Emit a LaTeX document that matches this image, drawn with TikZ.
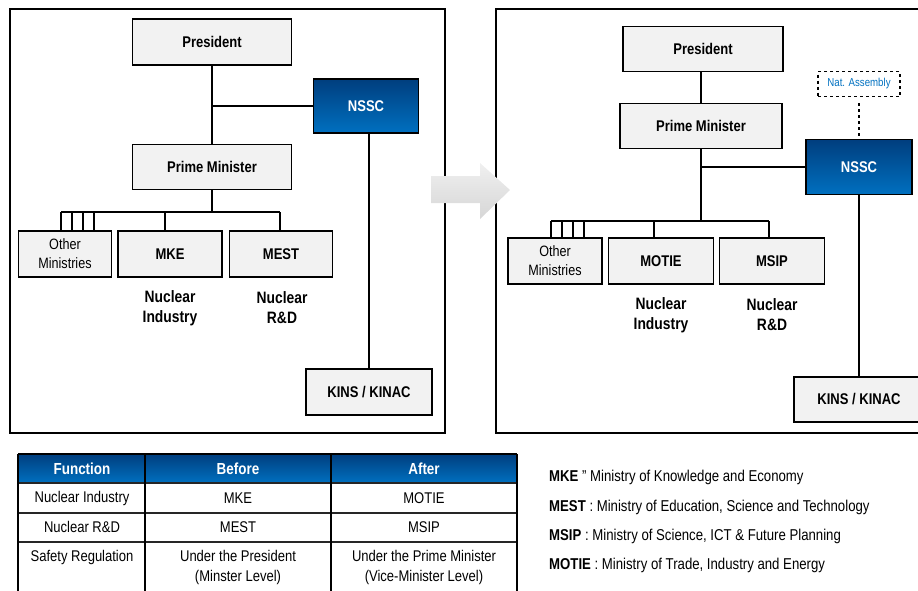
\documentclass[tikz,border=0pt]{standalone}
\usepackage{fontspec}
\setmainfont{Liberation Sans}[FakeStretch=0.84]
\usetikzlibrary{positioning}
\definecolor{boxgray}{RGB}{242,242,242}
\definecolor{navydark}{RGB}{0,62,126}
\definecolor{navylight}{RGB}{0,112,192}
\definecolor{natblue}{RGB}{0,112,192}

\begin{document}
\begin{tikzpicture}[x=1pt, y=-1pt, font=\fontsize{15}{17}\selectfont,
  orgbox/.style={draw, line width=1.3pt, fill=boxgray, inner sep=0pt, minimum height=46pt, font=\fontsize{15.5}{17}\selectfont\bfseries},
  nsscbox/.style={draw, line width=1.3pt, top color=navydark, bottom color=navylight, text=white, inner sep=0pt, minimum height=54pt, minimum width=105pt, font=\fontsize{15.5}{17}\selectfont\bfseries},
  otherbox/.style={orgbox, align=center, font=\fontsize{15}{19}\selectfont},
  role/.style={align=center, inner sep=0pt, font=\fontsize{16.5}{20}\selectfont\bfseries},
  link/.style={line width=2.8pt},
  thinlink/.style={line width=1.8pt},
  drop/.style={line width=1.6pt},
  cell/.style={inner sep=0pt, align=center, font=\fontsize{15.5}{20}\selectfont},
  headcell/.style={cell, text=white, font=\fontsize{16}{17}\selectfont\bfseries},
  legend/.style={anchor=west, inner sep=0pt, font=\fontsize{15.7}{17}\selectfont}]
  \useasboundingbox (0,0) rectangle (918,590);

  % panels
  \draw[line width=1.5pt] (10,9) rectangle (445,433);
  \draw[line width=1.5pt] (920,9) -- (496,9) -- (496,433) -- (920,433);

  % before
  \node[orgbox, minimum width=159pt] (pres1) at (212,42) {President};
  \node[nsscbox] (nssc1) at (366,106) {NSSC};
  \node[orgbox, minimum width=159pt, minimum height=45pt] (pm1) at (212,167) {Prime Minister};
  \node[otherbox, minimum width=93pt] (other1) at (65,254) {Other\\Ministries};
  \node[orgbox, minimum width=104pt] (mke) at (170,254) {MKE};
  \node[orgbox, minimum width=103pt] (mest) at (281,254) {MEST};
  \node[orgbox, minimum width=126pt] (kins1) at (369,392) {KINS / KINAC};
  \node[role] (ind1) at (170,308) {Nuclear\\Industry};
  \node[role] (rd1) at (282,308) {Nuclear\\R\&D};
  \coordinate (busl1) at (61,212);
  \coordinate (busr1) at (280,212);

  \draw[link] (pres1.south -| pm1) -- (pm1.north);
  \draw[link] (pres1 |- nssc1) -- (nssc1.west);
  \draw[link] (pm1.south) -- (pm1.south |- busl1);
  \draw[thinlink] (busl1) -- (busr1);
  \foreach \x in {61,72,83,94}
    \draw[drop] (busl1 -| \x,0) -- (other1.north -| \x,0);
  \draw[drop] (busl1 -| 165,0) -- (mke.north -| 165,0);
  \draw[drop] (busr1) -- (busr1 |- mest.north);
  \draw[thinlink] (kins1 |- nssc1.south) -- (kins1.north);

  % after
  \node[orgbox, minimum width=160pt, minimum height=45pt] (pres2) at (703,49) {President};
  \node[orgbox, minimum width=162pt, minimum height=45pt] (pm2) at (701,126) {Prime Minister};
  \node[draw, dashed, line width=1.3pt, minimum width=82pt, minimum height=25pt, inner sep=0pt, text=natblue, font=\fontsize{11.5}{13}\selectfont] (nat) at (859,84) {Nat. Assembly};
  \node[nsscbox, minimum width=106pt, minimum height=55pt] (nssc2) at (859,167) {NSSC};
  \node[otherbox, minimum width=94pt] (other2) at (555,261) {Other\\Ministries};
  \node[orgbox, minimum width=105pt] (motie) at (661,261) {MOTIE};
  \node[orgbox, minimum width=105pt] (msip) at (772,261) {MSIP};
  \node[orgbox, minimum width=130pt, minimum height=45pt] (kins2) at (859,399.5) {KINS / KINAC};
  \node[role] (ind2) at (661,315) {Nuclear\\Industry};
  \node[role] (rd2) at (772,315) {Nuclear\\R\&D};
  \coordinate (busl2) at (551,221);
  \coordinate (busr2) at (769,221);

  \draw[link] (pres2.south -| pm2) -- (pm2.north);
  \draw[thinlink] (pm2 |- nssc2) -- (nssc2.west);
  \draw[link] (pm2.south) -- (pm2.south |- busl2);
  \draw[thinlink] (busl2) -- (busr2);
  \foreach \x in {551,562,573,584}
    \draw[drop] (busl2 -| \x,0) -- (other2.north -| \x,0);
  \draw[drop] (busl2 -| 654,0) -- (motie.north -| 654,0);
  \draw[drop] (busr2) -- (busr2 |- msip.north);
  \draw[dashed, line width=1.8pt, shorten <=6pt] (nat) -- (nssc2);
  \draw[thinlink] (nssc2) -- (kins2);

  % arrow between panels
  \shade[top color=gray!12, bottom color=gray!32]
    (431,176) -- (480,176) -- (480,163) -- (510,190) -- (480,219) -- (480,203) -- (431,203) -- cycle;

  % table
  \shade[top color=navydark, bottom color=navylight] (18,454) rectangle (517,483);
  \draw[line width=1.5pt] (18,454) -- (517,454);
  \draw[line width=1.3pt, black!85] (18,483) -- (517,483);
  \draw[line width=1.3pt, black!85] (18,513) -- (517,513);
  \draw[line width=1.3pt, black!85] (18,542) -- (517,542);
  \foreach \x in {18,145,331,517}
    \draw[line width=1.8pt] (\x,454) -- (\x,592);

  \node[headcell] (hfun) at (82,469) {Function};
  \node[headcell] (hbef) at (238,469) {Before};
  \node[headcell] (haft) at (424,469) {After};
  \node[cell] (find) at (82,498) {Nuclear Industry};
  \node[cell] (bind) at (238,498) {MKE};
  \node[cell] (aind) at (424,498) {MOTIE};
  \node[cell] (frd) at (82,527) {Nuclear R\&D};
  \node[cell] (brd) at (238,527) {MEST};
  \node[cell] (ard) at (424,527) {MSIP};
  \node[cell, anchor=north] (fsafe) at (82,550) {Safety Regulation};
  \node[cell, anchor=north] (bsafe) at (238,550) {Under the President\\(Minster Level)};
  \node[cell, anchor=north] (asafe) at (424,550) {Under the Prime Minister\\(Vice-Minister Level)};

  % legend
  \node[legend] (lmke) at (549,477) {\textbf{MKE} '' Ministry of Knowledge and Economy};
  \node[legend] (lmest) at (549,507) {\textbf{MEST} : Ministry of Education, Science and Technology};
  \node[legend] (lmsip) at (549,536) {\textbf{MSIP} : Ministry of Science, ICT \& Future Planning};
  \node[legend] (lmotie) at (549,565) {\textbf{MOTIE} : Ministry of Trade, Industry and Energy};
\end{tikzpicture}
\end{document}
